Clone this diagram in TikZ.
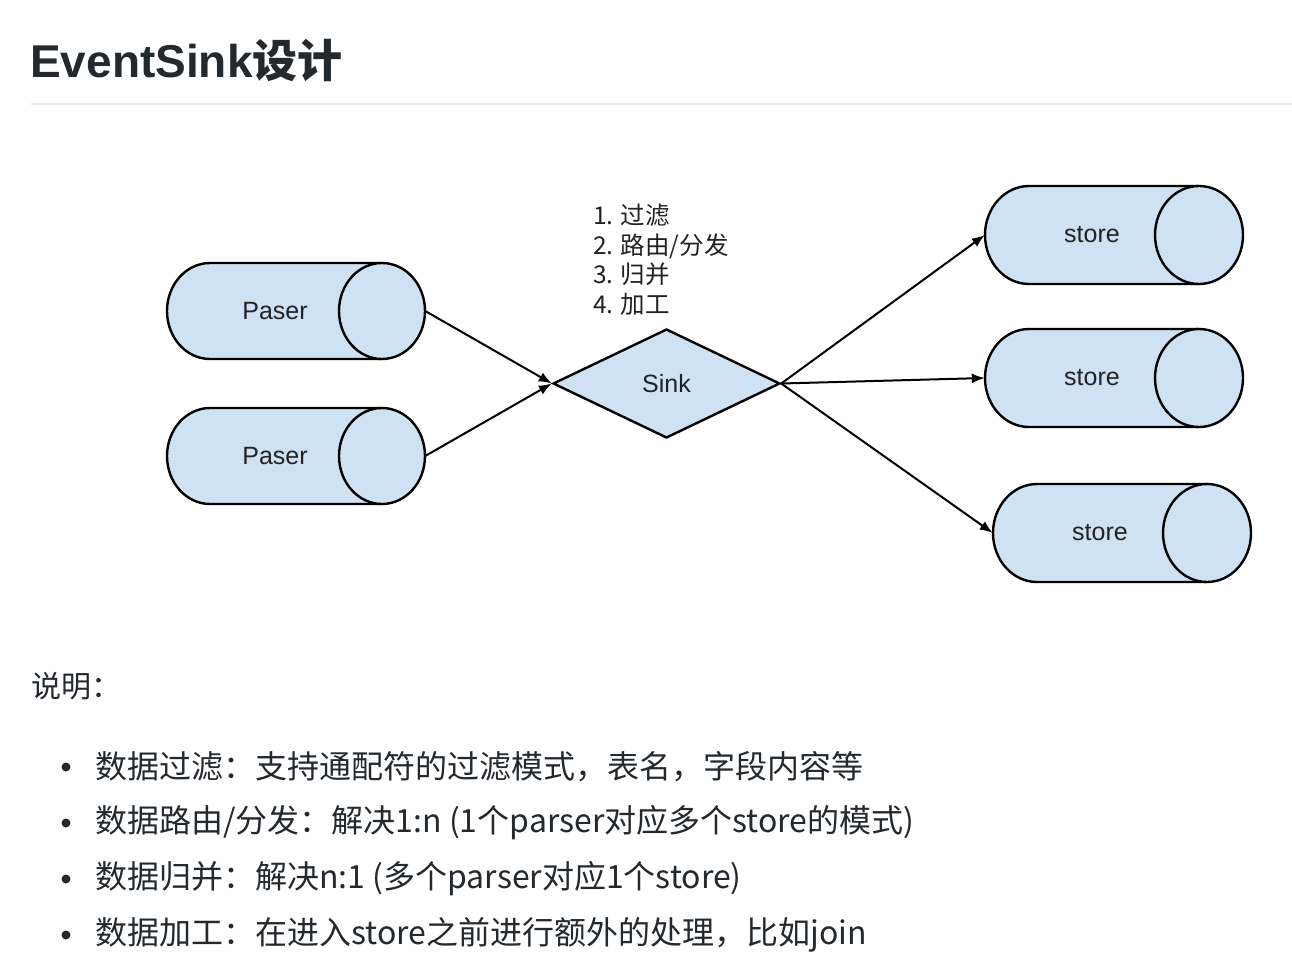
\documentclass[tikz,border=0pt]{standalone}
\usepackage{fontspec}
\usepackage{graphicx}
\setmainfont{Liberation Sans}
\newfontfamily\cjk{Noto Sans CJK SC}
\usetikzlibrary{shapes.geometric,arrows.meta}
\definecolor{cylfill}{HTML}{CFE2F3}
\definecolor{rulegray}{HTML}{EAECEF}
\definecolor{ink}{HTML}{24292E}
\definecolor{dink}{HTML}{222222}
\newcommand\drawcyl[5]{%
  \filldraw[cylline] (#2,#3-#5) -- (#1,#3-#5) arc[start angle=270,end angle=90,x radius=#4,y radius=#5] -- (#2,#3+#5);
  \filldraw[cylline] (#2,#3) ellipse[x radius=#4,y radius=#5];}
\tikzset{
  cylline/.style={draw=black,fill=cylfill,line width=2.4pt},
  box/.style={draw=none,inner sep=0pt,minimum width=258pt},
  lbl/.style={font=\fontsize{25}{29}\selectfont,text=dink,inner sep=0pt},
  conn/.style={line width=2pt,-{Latex[length=13pt,width=10pt]}},
  bodytext/.style={font=\cjk\fontsize{32}{36}\selectfont,text=ink,anchor=west,inner sep=0pt},
  bulletdot/.style={circle,fill=ink,inner sep=0pt,minimum size=9pt},
}
\begin{document}
\begin{tikzpicture}[x=1pt,y=-1pt]
\useasboundingbox[fill=white] (0,0) rectangle (1292,956);
% heading
\node[anchor=base west,inner sep=0pt,text=ink,font=\bfseries\fontsize{46}{52}\selectfont] (title) at (30,77) {EventSink{\cjk\fontsize{45}{52}\selectfont 设计}};
\coordinate (ruleL) at (31,104);
\coordinate (ruleR) at (1292,104);
\draw[rulegray,line width=2pt] (ruleL) -- (ruleR);
% cylinders
\drawcyl{210}{382}{311}{43}{48}
\drawcyl{210}{382}{456}{43}{48}
\drawcyl{1029}{1199}{235}{44}{49}
\drawcyl{1029}{1199}{378}{44}{49}
\drawcyl{1037}{1207}{533}{44}{49}
\node[box,minimum height=96pt] (p1) at (296,311) {};
\node[box,minimum height=96pt] (p2) at (296,456) {};
\node[box,minimum height=98pt] (s1) at (1114,235) {};
\node[box,minimum height=98pt] (s2) at (1114,378) {};
\node[box,minimum height=98pt] (s3) at (1122,533) {};
\node[lbl] (p1t) at (275,311) {Paser};
\node[lbl] (p2t) at (275,456) {Paser};
\node[lbl] (s1t) at (1092,235) {store};
\node[lbl] (s2t) at (1092,378) {store};
\node[lbl] (s3t) at (1100,533) {store};
% sink
\node[diamond,draw=black,fill=cylfill,line width=2.4pt,inner sep=0pt,minimum width=227pt,minimum height=109pt,lbl] (sink) at (666.5,383.5) {Sink};
\node[anchor=north west,inner sep=0pt,align=left,text=dink,font=\cjk\fontsize{24.5}{29.5}\selectfont] (ops) at (593,204) {1. 过滤\\2. 路由/分发\\3. 归并\\4. 加工};
% connectors
\draw[conn] (p1.east) -- (sink.west);
\draw[conn] (p2.east) -- (sink.west);
\draw[conn] (sink.east) -- (s1.west);
\draw[conn] (sink.east) -- (s2.west);
\draw[conn] (sink.east) -- (s3.west);
% text
\node[bodytext,font=\cjk\fontsize{30}{36}\selectfont] (desc) at (31,686) {说明：};
\node[bulletdot] (b1) at (66,767) {};
\node[bulletdot] (b2) at (66,823) {};
\node[bulletdot] (b3) at (66,879) {};
\node[bulletdot] (b4) at (66,935) {};
\node[bodytext] (t1) at (95,767) {数据过滤：支持通配符的过滤模式，表名，字段内容等};
\node[bodytext] (t2) at (95,823) {数据路由/分发：解决1:n (1个parser对应多个store的模式)};
\node[bodytext] (t3) at (95,879) {数据归并：解决n:1 (多个parser对应1个store)};
\node[bodytext] (t4) at (95,935) {数据加工：在进入store之前进行额外的处理，比如join};
\end{tikzpicture}
\end{document}
